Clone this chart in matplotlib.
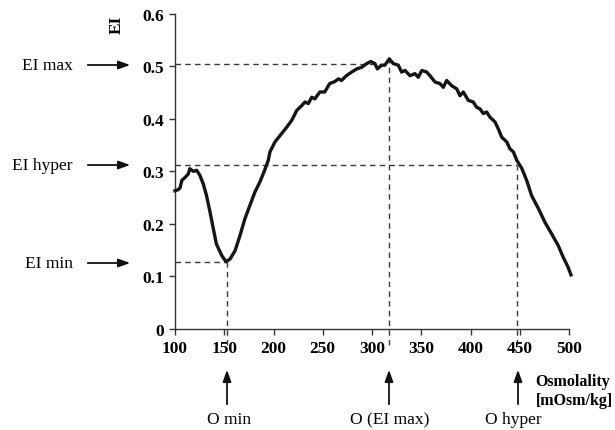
import matplotlib
matplotlib.use("Agg")
import matplotlib.pyplot as plt

# Data
osmolality = [100, 103, 105, 107, 110, 113.5, 115, 118.6, 122, 125.4, 128.7, 132, 135.5, 139, 142,
              147.4, 151.8, 155.8, 161, 166, 171, 176, 181, 186, 191, 194.7, 196.4, 201.5, 206.6,
              213.4, 218.5, 223.6, 228.6, 232, 235.3, 238.8, 242, 247, 252, 257, 262.4, 265.8, 269,
              274, 279.4, 284.5, 289.5, 294.6, 298.6, 303, 305.4, 309.8, 313, 317.6, 321.6, 326.7,
              330, 333.5, 338.6, 343.6, 347, 350.5, 355.5, 358.9, 364, 369, 372.4, 375.8, 380.9,
              386, 389.3, 392.7, 397.8, 402.8, 406.2, 409.6, 413, 416.4, 419.8, 424.9, 428.2, 431.7,
              436.8, 440, 443.5, 447, 452, 457, 462, 469, 475.6, 482.4, 489, 494, 499, 502]
ei = [0.263, 0.265, 0.268, 0.283, 0.288, 0.295, 0.305, 0.300, 0.302, 0.292, 0.276, 0.254, 0.223,
      0.190, 0.162, 0.140, 0.128, 0.133, 0.149, 0.178, 0.210, 0.235, 0.260, 0.279, 0.302, 0.321,
      0.337, 0.356, 0.368, 0.384, 0.397, 0.416, 0.425, 0.432, 0.429, 0.441, 0.438, 0.451, 0.451,
      0.467, 0.471, 0.476, 0.473, 0.482, 0.489, 0.495, 0.498, 0.505, 0.509, 0.505, 0.495, 0.502,
      0.502, 0.514, 0.505, 0.502, 0.489, 0.492, 0.482, 0.486, 0.479, 0.492, 0.489, 0.482, 0.470,
      0.467, 0.460, 0.473, 0.463, 0.457, 0.444, 0.451, 0.435, 0.432, 0.422, 0.419, 0.410, 0.413,
      0.403, 0.394, 0.381, 0.365, 0.356, 0.343, 0.337, 0.321, 0.306, 0.283, 0.254, 0.229, 0.203,
      0.181, 0.159, 0.137, 0.118, 0.103]

x_ticks = [100, 150, 200, 250, 300, 350, 400, 450, 500]
y_ticks = [0, 0.1, 0.2, 0.3, 0.4, 0.5, 0.6]
y_tick_labels = ["0", "0.1", "0.2", "0.3", "0.4", "0.5", "0.6"]

ei_labels = ["EI max", "EI hyper", "EI min"]
ei_values = [0.504, 0.313, 0.127]
o_labels = ["O min", "O (EI max)", "O hyper"]
o_values = [152.5, 317.5, 447.5]
o_tops = [0.127, 0.514, 0.313]

serif = ["Liberation Serif", "DejaVu Serif"]

fig = plt.figure(figsize=(6.15, 4.31), dpi=100)
ax = fig.add_axes([175 / 615, 101 / 431, 394 / 615, 315.3 / 431])

dash_kw = dict(color="#3a3a3a", lw=1.0, linestyles=(0, (4, 3)), clip_on=False, zorder=1)

# Horizontal dashed reference lines (from axis to the corresponding osmolality)
for yv, xv in zip(ei_values, [o_values[1], o_values[2], o_values[0]]):
    ax.hlines(yv, 100, xv, **dash_kw)
# Vertical dashed reference lines
for xv, yv in zip(o_values, o_tops):
    ax.vlines(xv, -0.03, yv, **dash_kw)

ax.plot(osmolality, ei, color="#151515", lw=2.4, solid_joinstyle="round", clip_on=False, zorder=3)

ax.set_xlim(100, 500)
ax.set_ylim(0, 0.6)
ax.set_xticks(x_ticks)
ax.set_yticks(y_ticks)
ax.set_yticklabels(y_tick_labels)
for lab in ax.get_xticklabels() + ax.get_yticklabels():
    lab.set_family(serif)
    lab.set_fontweight("bold")
    lab.set_fontsize(12.5)
ax.tick_params(direction="out", length=4, width=1, color="#333333", pad=4)
for s in ["top", "right"]:
    ax.spines[s].set_visible(False)
for s in ["left", "bottom"]:
    ax.spines[s].set_color("#333333")
    ax.spines[s].set_linewidth(1)

# EI axis label
fig.text(117 / 615, 1 - 25 / 431, "EI", rotation=90, ha="center", va="center",
         family=serif, fontweight="bold", fontsize=12.5)

arrow_style = dict(arrowstyle="-|>,head_length=0.7,head_width=0.25", color="#111111", lw=1.3)

# Left annotations with arrows
text_py = [66, 166, 264]
for lab, ty in zip(ei_labels, text_py):
    fig.text(73 / 615, 1 - ty / 431, lab, ha="right", va="center", family=serif, fontsize=12.5)
    ax.annotate("", xy=(133 / 615, 1 - ty / 431), xycoords="figure fraction",
                xytext=(85 / 615, 1 - ty / 431), textcoords="figure fraction",
                arrowprops=arrow_style)

# Bottom annotations with arrows
arrow_px = [227, 389, 518]
label_px = [229, 390, 513]
for lab, ax_x, lx in zip(o_labels, arrow_px, label_px):
    ax.annotate("", xy=(ax_x / 615, 1 - 368 / 431), xycoords="figure fraction",
                xytext=(ax_x / 615, 1 - 408 / 431), textcoords="figure fraction",
                arrowprops=arrow_style)
    fig.text(lx / 615, 1 - 420 / 431, lab, ha="center", va="center", family=serif, fontsize=12.5)

fig.text(613 / 615, 1 - 392 / 431, "Osmolality\n[mOsm/kg]", ha="right", va="center",
         multialignment="left", family=serif, fontweight="bold", fontsize=11.5, linespacing=1.25)

fig.savefig("out.png", dpi=100)
